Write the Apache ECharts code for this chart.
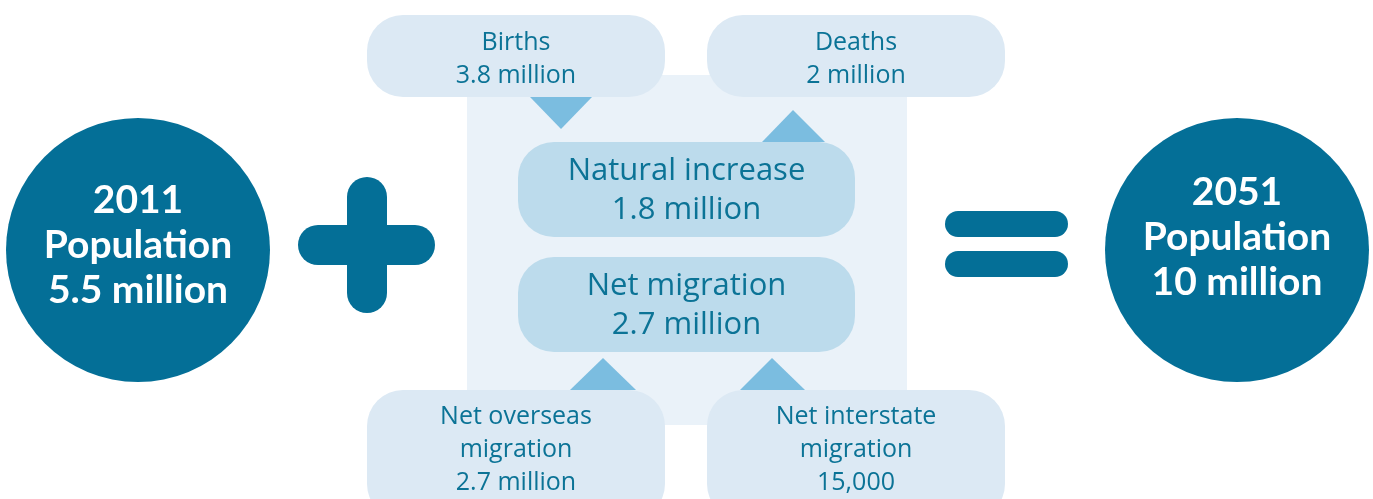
<!DOCTYPE html>
<html>
<head>
<meta charset="utf-8">
<script src="https://cdn.jsdelivr.net/npm/echarts@6/dist/echarts.min.js"></script>
<style>
  html, body { margin: 0; padding: 0; background: #fff; }
  #main { width: 1373px; height: 499px; }
</style>
</head>
<body>
<div id="main"></div>
<script>
// population now and later
var popYears = ['2011', '2051'];
var popValues = ['5.5 million', '10 million'];
// components
var boxLabels = ['Births', 'Deaths', 'Natural increase', 'Net migration', 'Net overseas\nmigration', 'Net interstate\nmigration'];
var boxValues = ['3.8 million', '2 million', '1.8 million', '2.7 million', '2.7 million', '15,000'];

var DARK = '#046f97';
var PALE = '#dce9f4';
var MID = '#bcdbec';
var BACK = '#eaf2f9';
var ARROW = '#7bbde0';
var TXT = '#0b7396';
var FONT = '"Open Sans", Lato, sans-serif';

var chart = echarts.init(document.getElementById('main'));

// box layout: [x, y, w, h, fontSize, fill]
var boxes = [
  [367, 15, 298, 82, 25, PALE],
  [707, 15, 298, 82, 25, PALE],
  [518, 142, 337, 95, 31, MID],
  [518, 257, 337, 95, 31, MID],
  [367, 390, 298, 130, 25, PALE],
  [707, 390, 298, 130, 25, PALE]
];
var boxTextY = [59, 59, 191, 306, 450, 450];

var g = [];
// background square
g.push({ type: 'rect', shape: { x: 467, y: 75, width: 440, height: 350 }, style: { fill: BACK } });

boxes.forEach(function (b, i) {
  g.push({ type: 'rect', shape: { x: b[0], y: b[1], width: b[2], height: b[3], r: 36 }, style: { fill: b[5] } });
  g.push({
    type: 'text',
    style: {
      text: boxLabels[i] + '\n' + boxValues[i],
      x: b[0] + b[2] / 2, y: boxTextY[i],
      align: 'center', verticalAlign: 'middle',
      fontSize: b[4], fontFamily: FONT, fill: TXT,
      lineHeight: b[4] === 31 ? 39 : 33
    }
  });
});

// arrows
var tris = [
  [[530, 97], [592, 97], [561, 129]],
  [[762, 142], [825, 142], [793, 110]],
  [[570, 390], [636, 390], [603, 358]],
  [[740, 390], [805, 390], [772, 358]]
];
tris.forEach(function (p) {
  g.push({ type: 'polygon', shape: { points: p }, style: { fill: ARROW } });
});

// circles
[[138, 250], [1237, 250]].forEach(function (c, i) {
  g.push({ type: 'circle', shape: { cx: c[0], cy: c[1], r: 132 }, style: { fill: DARK } });
  g.push({
    type: 'text',
    style: {
      text: popYears[i] + '\nPopulation\n' + popValues[i],
      x: c[0], y: c[1] - 5 + (i === 1 ? -8 : 0),
      align: 'center', verticalAlign: 'middle',
      fontSize: 39, fontWeight: 'bold', fontFamily: 'Lato, sans-serif', fill: '#fff',
      lineHeight: 45
    }
  });
});

// plus sign
g.push({ type: 'rect', shape: { x: 298, y: 225, width: 137, height: 40, r: 20 }, style: { fill: DARK } });
g.push({ type: 'rect', shape: { x: 347, y: 177, width: 40, height: 136, r: 20 }, style: { fill: DARK } });
// equals sign
g.push({ type: 'rect', shape: { x: 945, y: 211, width: 123, height: 26, r: 13 }, style: { fill: DARK } });
g.push({ type: 'rect', shape: { x: 945, y: 251, width: 123, height: 26, r: 13 }, style: { fill: DARK } });

chart.setOption({
  animation: false,
  graphic: g
});
</script>
</body>
</html>
